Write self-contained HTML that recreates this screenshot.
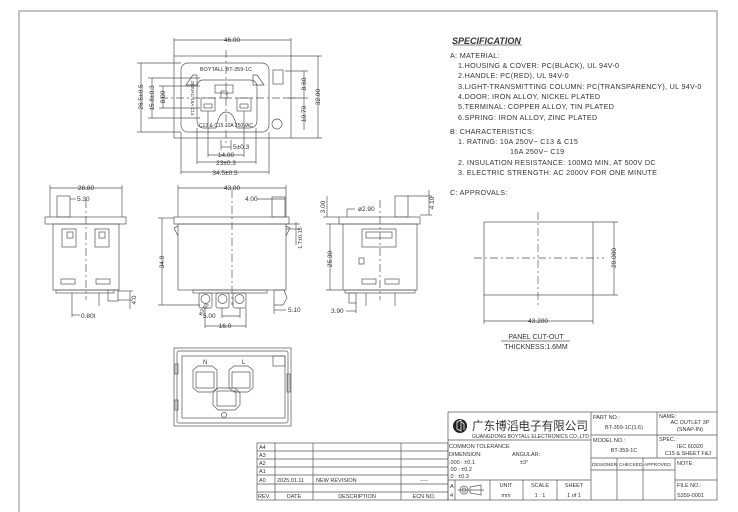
<!DOCTYPE html>
<html><head><meta charset="utf-8"><style>
html,body{margin:0;padding:0;background:#fff}
svg{display:block}
text{font-family:"Liberation Sans","Noto Sans CJK SC",sans-serif;fill:#333}
</style></head><body>
<svg width="738" height="512" viewBox="0 0 738 512" xmlns="http://www.w3.org/2000/svg">
<g fill="none" stroke="#555" stroke-width="0.7">
<polyline points="19,512 19,11 717,11 717,412" stroke="#888" stroke-width="1"/>
<rect x="174" y="56" width="117" height="82"/>
<rect x="181" y="63" width="88" height="69" rx="7"/>
<path d="M203,80 L250,80 Q257,80 257,88 L257,120 Q257,128 249,128 L237,128 Q234,112 226,112 Q219,112 216,128 L204,128 Q197,128 197,120 L197,88 Q197,80 203,80Z"/>
<path d="M186,85 L193,75 L197,75 L197,85Z M264,85 L257,75 L253,75 L253,85Z"/>
<rect x="215" y="85" width="18" height="8"/><rect x="221" y="91" width="6" height="7"/>
<rect x="201" y="98" width="14" height="13"/><rect x="237" y="98" width="14" height="13"/>
<rect x="204" y="104" width="8" height="4"/><rect x="240" y="104" width="8" height="4"/>
<rect x="273" y="70" width="10" height="14"/>
<circle cx="277" cy="124" r="5"/>
<line x1="174" y1="38" x2="174" y2="56"/><line x1="291" y1="38" x2="291" y2="56"/><line x1="174" y1="40" x2="291" y2="40"/>
<line x1="318" y1="56" x2="318" y2="138"/><line x1="291" y1="56" x2="322" y2="56"/><line x1="291" y1="138" x2="322" y2="138"/>
<line x1="304" y1="71" x2="304" y2="130"/><line x1="285" y1="71" x2="308" y2="71"/><line x1="285" y1="98" x2="308" y2="98"/>
<line x1="141" y1="63" x2="141" y2="132"/><line x1="137" y1="63" x2="181" y2="63"/><line x1="137" y1="132" x2="181" y2="132"/>
<line x1="152" y1="78" x2="152" y2="118"/><line x1="148" y1="78" x2="200" y2="78"/><line x1="148" y1="118" x2="200" y2="118"/>
<line x1="163" y1="86" x2="163" y2="108"/><line x1="159" y1="86" x2="200" y2="86"/><line x1="159" y1="108" x2="200" y2="108"/>
<line x1="221" y1="140" x2="221" y2="150"/><line x1="231" y1="140" x2="231" y2="150"/><line x1="221" y1="147" x2="231" y2="147"/>
<line x1="208" y1="111" x2="208" y2="157"/><line x1="244" y1="111" x2="244" y2="157"/><line x1="208" y1="155" x2="244" y2="155"/>
<line x1="197" y1="128" x2="197" y2="164"/><line x1="256" y1="128" x2="256" y2="164"/><line x1="197" y1="162" x2="256" y2="162"/>
<line x1="181" y1="132" x2="181" y2="174"/><line x1="269" y1="132" x2="269" y2="174"/><line x1="181" y1="172" x2="269" y2="172"/>
<line x1="226" y1="50" x2="226" y2="145" stroke-dasharray="8,3,2,3"/><line x1="160" y1="98" x2="300" y2="98" stroke-dasharray="8,3,2,3"/>
<rect x="45" y="217" width="81" height="7"/><rect x="53" y="224" width="66" height="66"/>
<rect x="57" y="196" width="13" height="21"/>
<rect x="62" y="229" width="14" height="18"/><rect x="95" y="229" width="14" height="18"/>
<rect x="67" y="232" width="6" height="6"/><rect x="99" y="232" width="6" height="6"/>
<rect x="61" y="279" width="14" height="5"/><rect x="96" y="279" width="14" height="5"/>
<rect x="56" y="290" width="58" height="3"/><rect x="108" y="290" width="10" height="11"/>
<line x1="72" y1="293" x2="72" y2="306"/><line x1="99" y1="293" x2="99" y2="306"/>
<line x1="86" y1="200" x2="86" y2="300" stroke-dasharray="8,3,2,3"/>
<line x1="50" y1="188" x2="122" y2="188"/><line x1="50" y1="185" x2="50" y2="217"/><line x1="122" y1="185" x2="122" y2="217"/>
<line x1="70" y1="199" x2="76" y2="199"/><line x1="72" y1="306" x2="72" y2="317"/><line x1="72" y1="315" x2="80" y2="315"/>
<line x1="130" y1="291" x2="130" y2="309"/><line x1="118" y1="291" x2="133" y2="291"/><line x1="118" y1="300" x2="133" y2="300"/>
<rect x="174" y="217" width="115" height="7"/><rect x="178" y="224" width="108" height="66"/>
<rect x="272" y="197" width="13" height="20"/>
<path d="M178,226 L174,228 L178,236 M286,226 L290,228 L286,236"/>
<rect x="193" y="290" width="74" height="3"/>
<rect x="199" y="293" width="13" height="15" rx="2"/><rect x="216" y="293" width="13" height="15" rx="2"/><rect x="233" y="293" width="13" height="15" rx="2"/>
<circle cx="205.5" cy="299" r="4.5"/><circle cx="222.5" cy="299" r="4.5"/><circle cx="239.5" cy="299" r="4.5"/>
<path d="M274,290 L284,290 L287,298 L283,305 L274,305Z"/>
<line x1="232" y1="190" x2="232" y2="305" stroke-dasharray="8,3,2,3"/>
<line x1="178" y1="188" x2="286" y2="188"/><line x1="178" y1="185" x2="178" y2="217"/><line x1="286" y1="185" x2="286" y2="217"/>
<line x1="257" y1="199" x2="285" y2="199"/>
<line x1="162" y1="218" x2="162" y2="305"/><line x1="158" y1="218" x2="174" y2="218"/><line x1="158" y1="305" x2="200" y2="305"/>
<line x1="296" y1="222" x2="296" y2="245"/><line x1="286" y1="224" x2="300" y2="224"/><line x1="286" y1="229" x2="300" y2="229"/>
<line x1="205" y1="308" x2="205" y2="328"/><line x1="246" y1="308" x2="246" y2="328"/><line x1="205" y1="326" x2="246" y2="326"/>
<line x1="222" y1="308" x2="222" y2="318"/><line x1="240" y1="308" x2="240" y2="318"/><line x1="222" y1="316" x2="240" y2="316"/>
<line x1="274" y1="305" x2="274" y2="314"/><line x1="274" y1="310" x2="286" y2="310"/>
<rect x="339" y="217" width="81" height="7"/><rect x="343" y="224" width="74" height="66"/>
<rect x="395" y="196" width="13" height="21"/>
<rect x="362" y="229" width="34" height="18"/><rect x="366" y="232" width="26" height="6"/>
<rect x="359" y="258" width="5" height="6"/>
<rect x="362" y="279" width="14" height="5"/><rect x="385" y="279" width="14" height="5"/>
<rect x="345" y="290" width="70" height="3"/><rect x="349" y="293" width="7" height="10"/>
<line x1="366" y1="293" x2="366" y2="306"/><line x1="395" y1="293" x2="395" y2="306"/>
<line x1="380" y1="200" x2="380" y2="300" stroke-dasharray="8,3,2,3"/>
<line x1="327" y1="196" x2="327" y2="217"/><line x1="323" y1="217" x2="339" y2="217"/>
<line x1="429" y1="190" x2="429" y2="215"/><line x1="408" y1="196" x2="432" y2="196"/><line x1="420" y1="215" x2="432" y2="215"/>
<line x1="330" y1="224" x2="330" y2="290"/><line x1="326" y1="224" x2="343" y2="224"/><line x1="326" y1="290" x2="343" y2="290"/>
<line x1="347" y1="209" x2="355" y2="209"/><line x1="347" y1="209" x2="347" y2="217"/>
<line x1="356" y1="303" x2="356" y2="313"/><line x1="346" y1="311" x2="356" y2="311"/>
<rect x="174" y="348" width="117" height="78"/><rect x="177" y="351" width="111" height="72" rx="2"/>
<rect x="182" y="356" width="103" height="62"/>
<rect x="273" y="356" width="12" height="10"/>
<path d="M193,370 L198,366 L212,366 L217,370 L217,388 L212,392 L198,392 L193,388Z"/>
<path d="M229,370 L234,366 L248,366 L253,370 L253,388 L248,392 L234,392 L229,388Z"/>
<rect x="196" y="372" width="18" height="16"/><rect x="232" y="372" width="18" height="16"/>
<path d="M213,393 L218,388 L235,388 L240,393 L240,405 L235,410 L218,410 L213,405Z"/>
<rect x="217" y="391" width="19" height="15"/>
<circle cx="224" cy="415" r="2.5"/>
<rect x="175" y="364" width="3" height="10"/><rect x="175" y="400" width="3" height="10"/><rect x="287" y="374" width="3" height="18"/>
<rect x="484" y="222" width="109" height="73"/>
<line x1="538" y1="212" x2="538" y2="305" stroke-dasharray="8,3,2,3"/>
<line x1="474" y1="258" x2="604" y2="258" stroke-dasharray="8,3,2,3"/>
<line x1="593" y1="222" x2="618" y2="222"/><line x1="593" y1="295" x2="618" y2="295"/><line x1="614" y1="222" x2="614" y2="295"/>
<line x1="484" y1="295" x2="484" y2="324"/><line x1="593" y1="295" x2="593" y2="324"/><line x1="484" y1="321" x2="593" y2="321"/>
<line x1="501" y1="341" x2="570" y2="341"/>
<line x1="453" y1="45" x2="522" y2="45"/>
<rect x="448" y="412" width="269" height="88"/>
<line x1="591" y1="412" x2="591" y2="500"/><line x1="657" y1="412" x2="657" y2="458"/>
<line x1="448" y1="440" x2="591" y2="440"/><line x1="591" y1="435" x2="717" y2="435"/><line x1="591" y1="458" x2="717" y2="458"/>
<line x1="591" y1="470" x2="675" y2="470"/><line x1="617" y1="458" x2="617" y2="500"/><line x1="643" y1="458" x2="643" y2="500"/><line x1="675" y1="458" x2="675" y2="500"/>
<line x1="675" y1="480" x2="717" y2="480"/>
<line x1="448" y1="480" x2="591" y2="480"/><line x1="455" y1="480" x2="455" y2="500"/><line x1="490" y1="480" x2="490" y2="500"/><line x1="523" y1="480" x2="523" y2="500"/><line x1="557" y1="480" x2="557" y2="500"/>
<rect x="257" y="443" width="191" height="57"/>
<line x1="257" y1="451" x2="448" y2="451"/><line x1="257" y1="459" x2="448" y2="459"/><line x1="257" y1="467" x2="448" y2="467"/><line x1="257" y1="475" x2="448" y2="475"/><line x1="257" y1="484" x2="448" y2="484"/><line x1="257" y1="492" x2="448" y2="492"/>
<line x1="275" y1="443" x2="275" y2="500"/><line x1="313" y1="443" x2="313" y2="500"/><line x1="401" y1="443" x2="401" y2="500"/>
<circle cx="464" cy="490" r="4"/><circle cx="464" cy="490" r="2"/><path d="M470,487 L481,485 L481,495 L470,493Z"/><line x1="458" y1="490" x2="484" y2="490"/>
</g>
<circle cx="460" cy="426" r="7" fill="#222"/>
<path d="M457,422 L461,420 L461,431 L457,429Z M462,422 L464,424 L464,430" fill="none" stroke="#fff" stroke-width="0.8"/>
<g font-size="6.5">
<text x="232" y="42" text-anchor="middle">46.00</text>
<text x="226" y="71" text-anchor="middle" font-size="5.5">BOYTALL  BT-359-1C</text>
<text x="226" y="127" text-anchor="middle" font-size="5">C13 &amp; C15 10A 250VAC</text>
<text transform="translate(191,98) rotate(90)" text-anchor="middle" font-size="4.5">250VAC 16A C14</text>
<text transform="translate(320,97) rotate(-90)" text-anchor="middle">32.00</text>
<text transform="translate(306,84) rotate(-90)" text-anchor="middle">8.60</text>
<text transform="translate(306,114) rotate(-90)" text-anchor="middle">10.70</text>
<text transform="translate(143,97) rotate(-90)" text-anchor="middle">26.5±0.5</text>
<text transform="translate(154,98) rotate(-90)" text-anchor="middle">15.8±0.3</text>
<text transform="translate(165,97) rotate(-90)" text-anchor="middle">8.00</text>
<text x="233" y="149">5±0.3</text>
<text x="226" y="157" text-anchor="middle">14.00</text>
<text x="226" y="165" text-anchor="middle">23±0.3</text>
<text x="225" y="175" text-anchor="middle">34.5±0.5</text>
<text x="86" y="190" text-anchor="middle">28.80</text>
<text x="77" y="201">5.30</text>
<text x="81" y="318">0.80t</text>
<text transform="translate(136,300) rotate(-90)" text-anchor="middle">4.0</text>
<text x="232" y="190" text-anchor="middle">43.00</text>
<text x="245" y="201">4.00</text>
<text transform="translate(164,262) rotate(-90)" text-anchor="middle">34.9</text>
<text transform="translate(302,238) rotate(-90)" text-anchor="middle" font-size="5.5">1.7±0.15</text>
<text transform="translate(201,316) rotate(-55)" font-size="5.5">ø3.65</text>
<text x="203" y="318">5.00</text>
<text x="225" y="328" text-anchor="middle">16.0</text>
<text x="288" y="312">5.10</text>
<text transform="translate(325,207) rotate(-90)" text-anchor="middle">3.00</text>
<text x="358" y="211">ø2.90</text>
<text transform="translate(434,203) rotate(-90)" text-anchor="middle">4.10</text>
<text transform="translate(332,259) rotate(-90)" text-anchor="middle">25.30</text>
<text x="331" y="313">3.90</text>
<text x="203" y="364" font-size="6">N</text><text x="242" y="364" font-size="6">L</text>
<text transform="translate(616,258) rotate(-90)" text-anchor="middle">29.000</text>
<text x="538" y="323" text-anchor="middle">43.200</text>
<text x="536" y="339" text-anchor="middle" font-size="7">PANEL CUT-OUT</text>
<text x="536" y="349" text-anchor="middle" font-size="7">THICKNESS:1.6MM</text>
</g>
<text x="452" y="44" font-family="Liberation Serif" font-style="italic" font-weight="bold" font-size="9">SPECIFICATION</text>
<g font-size="7.2" letter-spacing="0.3">
<text x="450" y="58">A:  MATERIAL:</text>
<text x="458" y="68">1.HOUSING &amp; COVER:  PC(BLACK),  UL  94V-0</text>
<text x="458" y="78">2.HANDLE:  PC(RED),  UL  94V-0</text>
<text x="458" y="89">3.LIGHT-TRANSMITTING  COLUMN:  PC(TRANSPARENCY),  UL  94V-0</text>
<text x="458" y="99">4.DOOR:  IRON  ALLOY,  NICKEL  PLATED</text>
<text x="458" y="109">5.TERMINAL:  COPPER  ALLOY,  TIN  PLATED</text>
<text x="458" y="120">6.SPRING:  IRON  ALLOY,  ZINC  PLATED</text>
<text x="450" y="134">B:  CHARACTERISTICS:</text>
<text x="458" y="144">1.  RATING:  10A  250V~  C13  &amp;  C15</text>
<text x="510" y="154">16A  250V~  C19</text>
<text x="458" y="165">2.  INSULATION  RESISTANCE:  100MΩ  MIN,  AT  500V  DC</text>
<text x="458" y="175">3.  ELECTRIC  STRENGTH:  AC  2000V  FOR  ONE  MINUTE</text>
<text x="450" y="195">C:  APPROVALS:</text>
</g>
<text x="472" y="430" font-size="12" textLength="116" lengthAdjust="spacingAndGlyphs">广东博滔电子有限公司</text>
<text x="472" y="438" font-size="5" textLength="117" lengthAdjust="spacingAndGlyphs">GUANGDONG BOYTALL ELECTRONICS CO.,LTD</text>
<g font-size="5.5">
<text x="449" y="448">COMMON TOLERANCE</text>
<text x="449" y="456">DIMENSION:</text><text x="512" y="456">ANGULAR:</text>
<text x="449" y="464">.000 : ±0.1</text><text x="520" y="464">±3°</text>
<text x="449" y="471">.00  : ±0.2</text>
<text x="449" y="478">.0   : ±0.3</text>
<text x="450" y="488">A</text><text x="450" y="497">4</text>
<text x="506" y="487" text-anchor="middle">UNIT</text><text x="506" y="497" text-anchor="middle">mm</text>
<text x="540" y="487" text-anchor="middle">SCALE</text><text x="540" y="497" text-anchor="middle">1 : 1</text>
<text x="574" y="487" text-anchor="middle">SHEET</text><text x="574" y="497" text-anchor="middle">1 of 1</text>
<text x="593" y="419">PART NO.:</text><text x="624" y="429" text-anchor="middle">BT-359-1C(1.6)</text>
<text x="659" y="418">NAME:</text><text x="690" y="424" text-anchor="middle">AC OUTLET 3P</text><text x="690" y="431" text-anchor="middle">(SNAP-IN)</text>
<text x="593" y="442">MODEL NO.:</text><text x="624" y="452" text-anchor="middle">BT-359-1C</text>
<text x="659" y="441">SPEC.:</text><text x="690" y="448" text-anchor="middle">IEC 60320</text><text x="688" y="455" text-anchor="middle">C15 &amp; SHEET F&amp;J</text>
<text x="592" y="466" font-size="4.8">DESIGNER</text><text x="619" y="466" font-size="4.8">CHECKED</text><text x="644" y="466" font-size="4.8">APPROVED</text><text x="677" y="465">NOTE:</text>
<text x="677" y="487">FILE NO.:</text><text x="677" y="497">S359-0001</text>
<text x="259" y="449">A4</text><text x="259" y="457">A3</text><text x="259" y="465">A2</text><text x="259" y="473">A1</text><text x="259" y="482">A0</text><text x="258" y="498">REV.</text>
<text x="277" y="482">2025.01.11</text><text x="316" y="482">NEW REVISION</text><text x="424" y="482" text-anchor="middle">----</text>
<text x="294" y="498" text-anchor="middle">DATE</text><text x="357" y="498" text-anchor="middle">DESCRIPTION</text><text x="424" y="498" text-anchor="middle">ECN NO.</text>
</g>
</svg>
</body></html>
